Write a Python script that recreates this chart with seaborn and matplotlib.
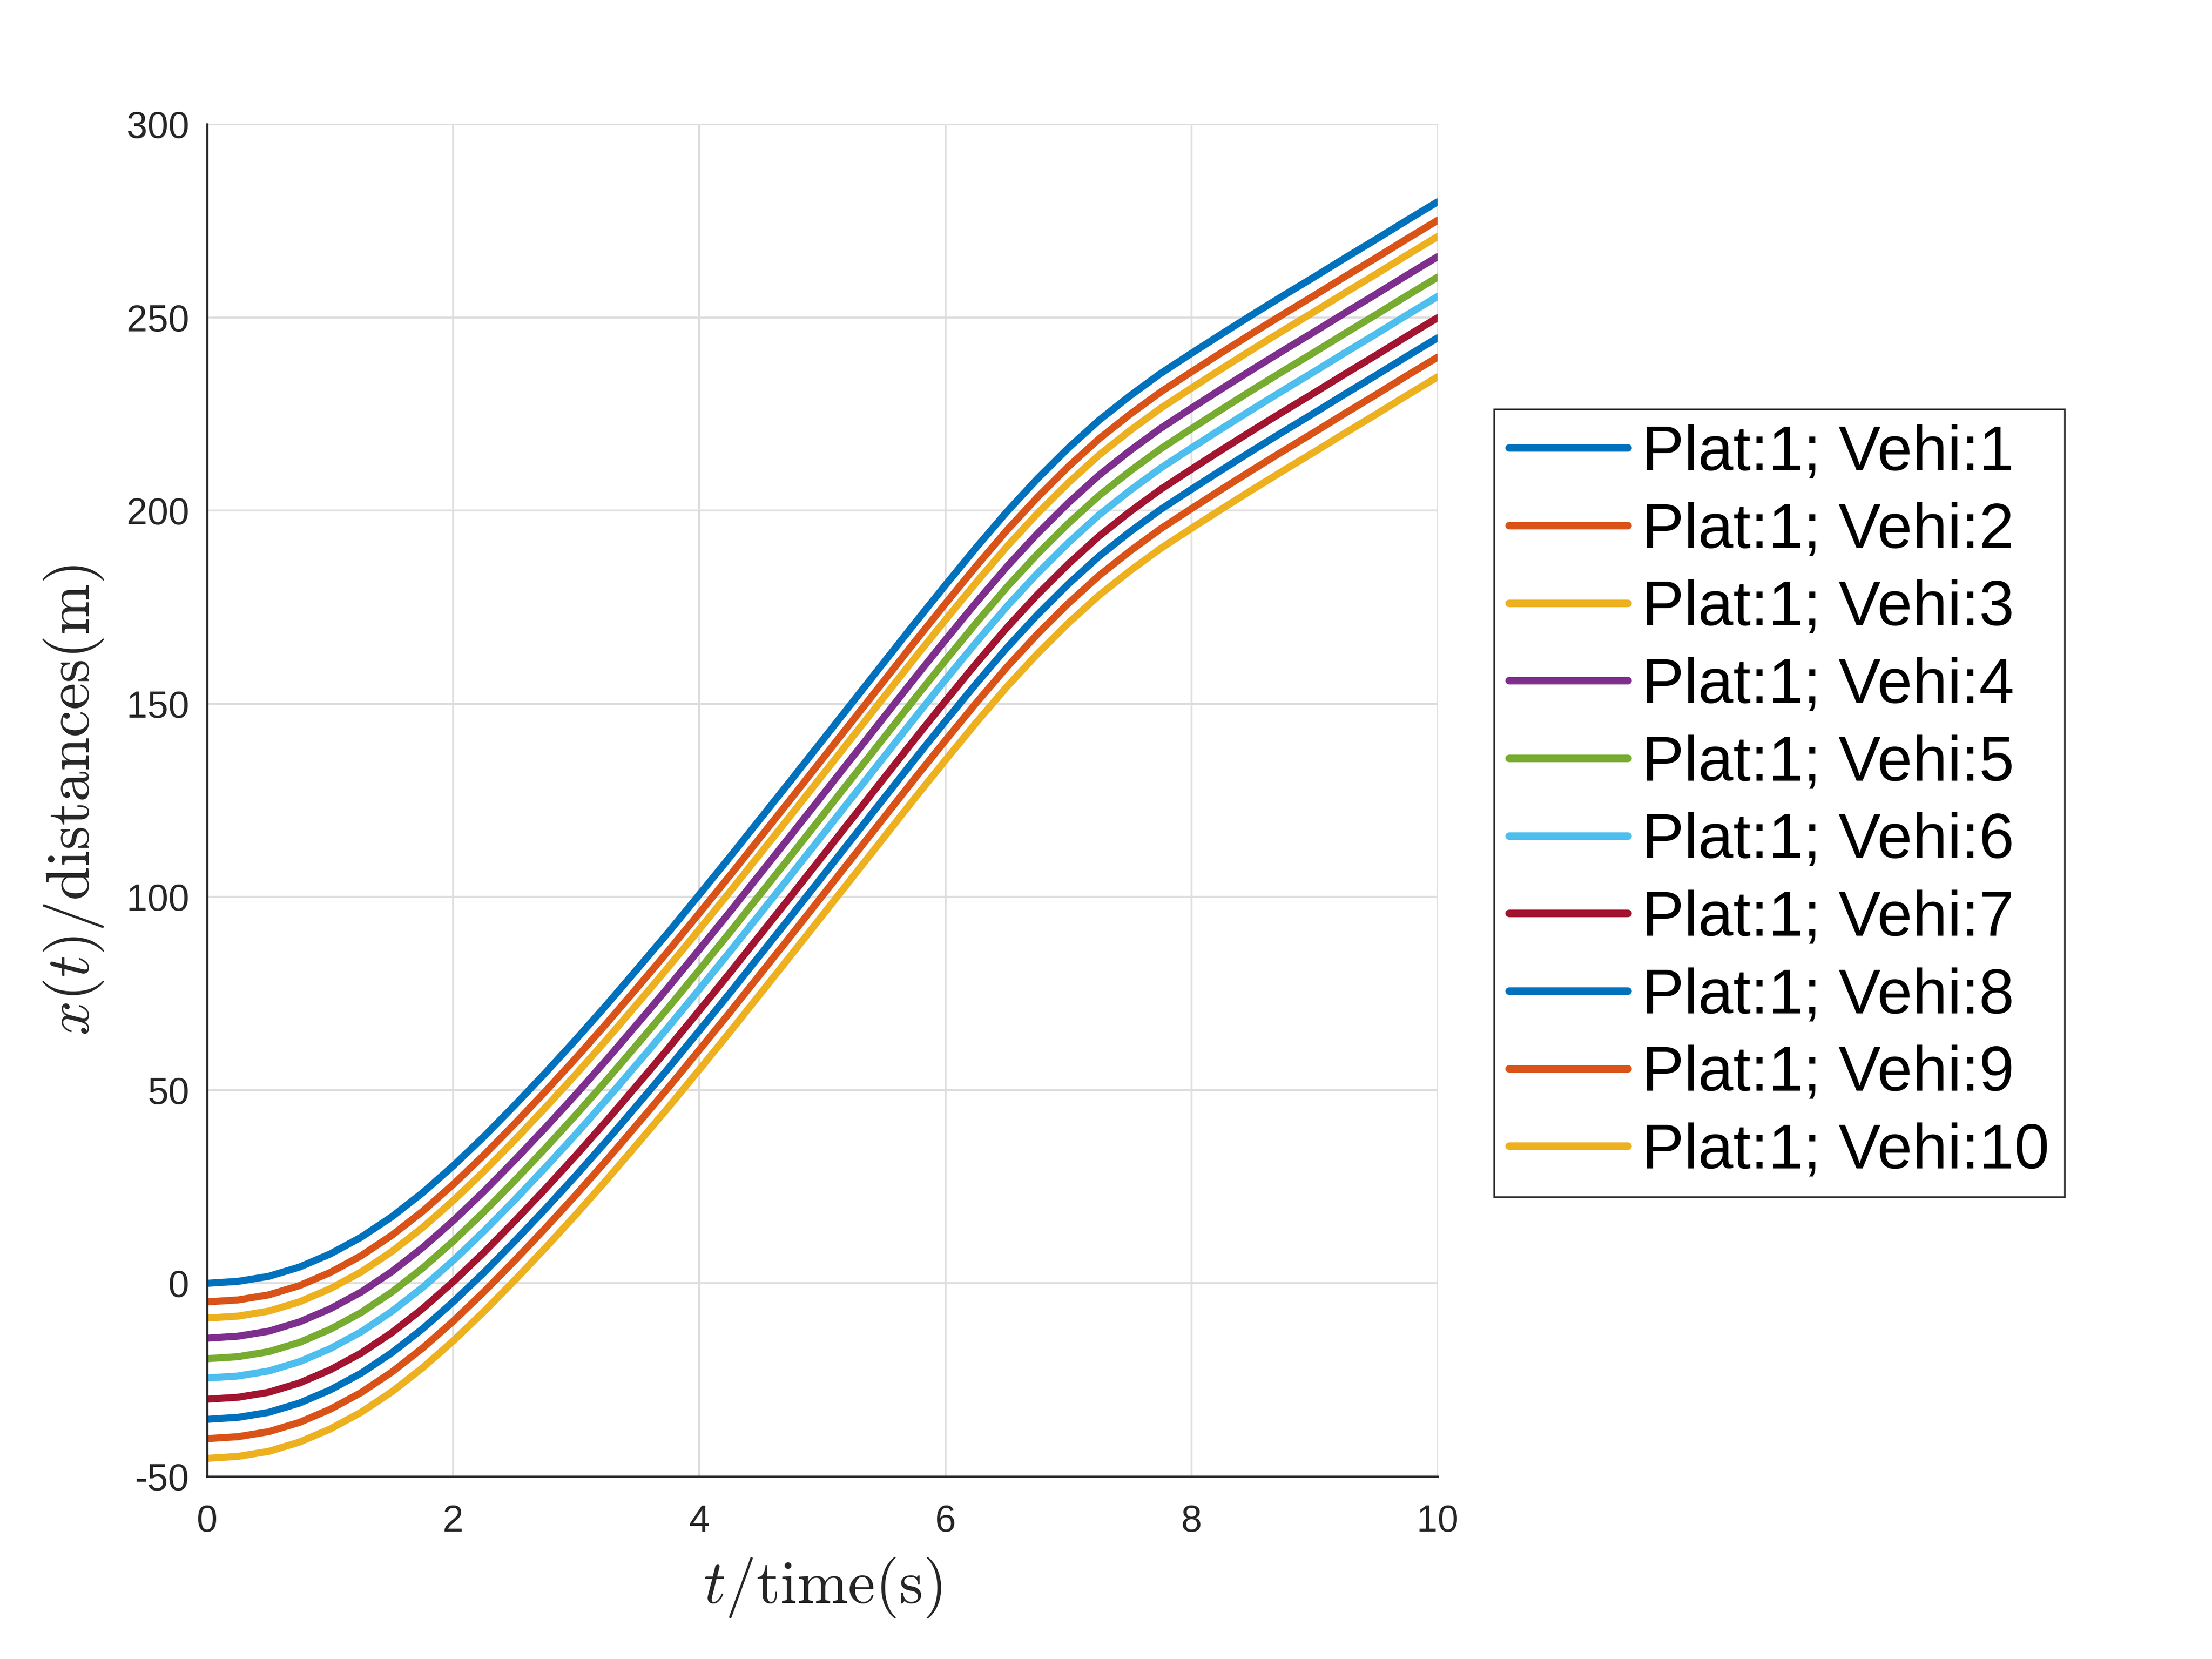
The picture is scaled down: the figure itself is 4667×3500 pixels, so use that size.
import numpy as np
import pandas as pd
import matplotlib
matplotlib.use('Agg')
import matplotlib.pyplot as plt
import seaborn as sns

# Time axis (s) and leader trajectory (m) at 0.25 s steps
time_s = [0.0, 0.25, 0.5, 0.75, 1.0, 1.25, 1.5, 1.75, 2.0, 2.25, 2.5, 2.75,
          3.0, 3.25, 3.5, 3.75, 4.0, 4.25, 4.5, 4.75, 5.0, 5.25, 5.5, 5.75,
          6.0, 6.25, 6.5, 6.75, 7.0, 7.25, 7.5, 7.75, 8.0, 8.25, 8.5, 8.75,
          9.0, 9.25, 9.5, 9.75, 10.0]
leader_pos = [0.0, 0.5, 1.8, 4.2, 7.6, 11.9, 17.2, 23.4, 30.4, 38.0, 46.1, 54.5,
              63.2, 72.2, 81.5, 90.9, 100.6, 110.4, 120.4, 130.4, 140.5, 150.6, 160.7, 170.8,
              180.7, 190.4, 199.7, 208.3, 216.2, 223.4, 229.7, 235.5, 240.7, 245.8, 250.8, 255.7,
              260.5, 265.4, 270.2, 275.1, 279.9]

# Offset of every vehicle behind the leader (m)
vehicle_offset = [0.0, -4.8, -9.0, -14.2, -19.5, -24.5, -30.0, -35.2, -40.2, -45.3]
vehicle_labels = ['Plat:1; Vehi:%d' % (i + 1) for i in range(10)]

# MATLAB default line colours
matlab_colors = ['#0072BD', '#D95319', '#EDB120', '#7E2F8E', '#77AC30',
                 '#4DBEEE', '#A2142F', '#0072BD', '#D95319', '#EDB120']

# Long table for seaborn
rows = []
for lab, off in zip(vehicle_labels, vehicle_offset):
    for t, x in zip(time_s, leader_pos):
        rows.append((lab, t, x + off))
df = pd.DataFrame(rows, columns=['vehicle', 't', 'x'])

sns.set_style('white')
plt.rcParams['font.family'] = ['Liberation Sans', 'DejaVu Sans']
plt.rcParams['mathtext.fontset'] = 'cm'
plt.rcParams['axes.unicode_minus'] = False

dark = '#262626'
fig = plt.figure(figsize=(4667 / 300, 3500 / 300), dpi=300)
ax = fig.add_axes([437 / 4667, 1 - 3115 / 3500, (3033 - 437) / 4667, (3115 - 262) / 3500])

sns.lineplot(data=df, x='t', y='x', hue='vehicle', palette=matlab_colors,
             linewidth=3.6, ax=ax, legend=True)

ax.set_xlim(0, 10)
ax.set_ylim(-50, 300)
ax.set_xticks([0, 2, 4, 6, 8, 10])
ax.set_yticks([-50, 0, 50, 100, 150, 200, 250, 300])

ax.grid(True, color='#dedede', linewidth=1.0)
ax.set_axisbelow(True)
for s in ['top', 'right']:
    ax.spines[s].set_visible(False)
for s in ['left', 'bottom']:
    ax.spines[s].set_color(dark)
    ax.spines[s].set_linewidth(1.1)
ax.tick_params(axis='both', direction='in', length=7, width=1.1, colors=dark,
               labelsize=19, labelcolor=dark)
ax.tick_params(axis='x', pad=14)
ax.tick_params(axis='y', pad=9)

ax.set_xlabel(r'$t/\mathrm{time(s)}$', fontsize=31, color=dark)
ax.set_ylabel(r'$x(t)/\mathrm{distances(m)}$', fontsize=31, color=dark)
ax.xaxis.label.set_va('center')
ax.yaxis.label.set_va('center')
ax.xaxis.set_label_coords(0.5, (3115 - 3349) / 2853)
ax.yaxis.set_label_coords((155 - 437) / 2596, 0.5)

handles, labels = ax.get_legend_handles_labels()
leg = ax.legend(handles, labels, loc='upper left',
                bbox_to_anchor=(3152 / 4667, 1 - 863 / 3500),
                bbox_transform=fig.transFigure, borderaxespad=0,
                fontsize=32, frameon=True, fancybox=False, framealpha=1,
                edgecolor=dark, borderpad=0.24, labelspacing=0.29,
                handlelength=1.88, handletextpad=0.22)
leg.get_frame().set_linewidth(0.8)
for h in leg.get_lines():
    h.set_linewidth(3.8)
for txt in leg.get_texts():
    txt.set_color('black')

fig.savefig('out.png', dpi=300)
